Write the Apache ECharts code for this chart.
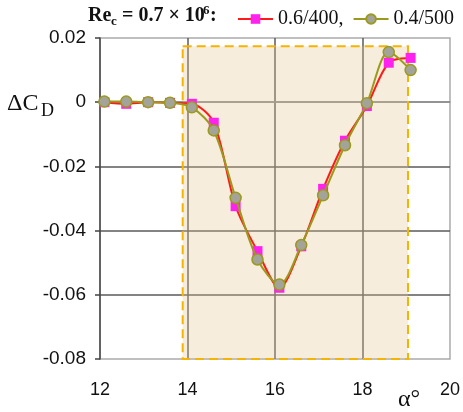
<!DOCTYPE html>
<html>
<head>
<meta charset="utf-8">
<script src="https://cdn.jsdelivr.net/npm/echarts@6/dist/echarts.min.js"></script>
<style>
  html, body { margin: 0; padding: 0; background: #fff; }
  #chart { width: 463px; height: 412px; }
</style>
</head>
<body>
<div id="chart"></div>
<script>
// Angle of attack (deg)
const alphaDeg = [12.1, 12.6, 13.1, 13.6, 14.1, 14.6, 15.1, 15.6, 16.1, 16.6, 17.1, 17.6, 18.1, 18.6, 19.1];
// Drag coefficient increment for the two configurations
const dCd_06_400 = [0, -0.0005, 0, -0.0002, -0.0005, -0.0064, -0.0324, -0.0464, -0.0578, -0.0449, -0.0270, -0.0120, -0.0012, 0.0123, 0.0138];
const dCd_04_500 = [0.0002, 0.0002, 0, -0.0002, -0.0016, -0.0088, -0.0298, -0.0490, -0.0568, -0.0445, -0.0290, -0.0134, -0.0003, 0.0156, 0.0100];
const seriesNames = ['0.6/400', '0.4/500'];
// Highlighted angle range (alpha from/to, dCd from/to)
const regionAlpha = [13.89, 19.04];
const regionDcd = [0.0174, -0.0805];

const serif = '"Liberation Serif", "DejaVu Serif", serif';
const sans = '"Liberation Sans", Arial, sans-serif';

const pairs = (xs, ys) => xs.map((x, i) => [x, ys[i]]);

const chart = echarts.init(document.getElementById('chart'), null, { renderer: 'canvas' });

chart.setOption({
  animation: false,
  backgroundColor: '#fff',
  grid: {
    left: 100, right: 12, top: 38, bottom: 53,
    show: true, borderColor: '#aaaaaa', borderWidth: 1.5, backgroundColor: 'transparent'
  },
  legend: {
    orient: 'horizontal',
    left: 237, top: 9, width: 226, padding: 0,
    itemWidth: 35, itemHeight: 12, itemGap: 9,
    textStyle: { fontFamily: serif, fontSize: 20, color: '#111' },
    formatter: name => name === seriesNames[0] ? name + ',' : name,
    data: seriesNames
  },
  xAxis: {
    type: 'value', min: 12, max: 20, interval: 2,
    axisLine: { show: true, lineStyle: { color: '#999', width: 1.5 } },
    axisTick: { show: false },
    axisLabel: { fontFamily: sans, fontSize: 18, color: '#111', margin: 22 },
    splitLine: { show: true, showMinLine: false, showMaxLine: false, lineStyle: { color: '#5a5a5a', width: 1.5 } }
  },
  yAxis: {
    type: 'value', min: -0.08, max: 0.02, interval: 0.02,
    axisLine: { show: true, onZero: false, lineStyle: { color: '#444', width: 1.5 } },
    axisTick: { show: true, length: 5, lineStyle: { color: '#444', width: 1.5 } },
    axisLabel: {
      fontFamily: sans, fontSize: 19, color: '#111', margin: 14,
      formatter: v => Math.abs(v) < 1e-9 ? '0' : v.toFixed(2)
    },
    splitLine: { show: true, showMinLine: false, showMaxLine: false, lineStyle: { color: '#5a5a5a', width: 1.5 } }
  },
  series: [
    {
      name: seriesNames[0], type: 'line', clip: false,
      data: pairs(alphaDeg, dCd_06_400),
      smooth: 0.3,
      symbol: 'rect', symbolSize: 10,
      lineStyle: { color: '#ff1a1a', width: 2 },
      itemStyle: { color: '#ff22ee', borderWidth: 0 },
      z: 3,
      markArea: {
        silent: true,
        itemStyle: {
          color: 'rgba(225, 195, 140, 0.3)',
          borderColor: '#f5b400', borderWidth: 2, borderType: [9, 5]
        },
        data: [[
          { xAxis: regionAlpha[0], yAxis: regionDcd[0] },
          { xAxis: regionAlpha[1], yAxis: regionDcd[1] }
        ]]
      }
    },
    {
      name: seriesNames[1], type: 'line', clip: false,
      data: pairs(alphaDeg, dCd_04_500),
      smooth: 0.3,
      symbol: 'circle', symbolSize: 11,
      lineStyle: { color: '#9a9a1c', width: 2 },
      itemStyle: { color: '#a3a39a', borderColor: '#9a9a1c', borderWidth: 1.5 },
      z: 4
    }
  ],
  graphic: [
    // Heading: Re_c = 0.7 × 10^6:
    { type: 'text', left: 88, top: 6, style: { text: 'Re', font: 'bold 20px ' + serif, fill: '#111' } },
    { type: 'text', left: 111, top: 15, style: { text: 'c', font: 'bold 13px ' + serif, fill: '#111' } },
    { type: 'text', left: 117, top: 6, style: { text: ' = 0.7 × 10', font: 'bold 20px ' + serif, fill: '#111' } },
    { type: 'text', left: 203, top: 4, style: { text: '6', font: 'bold 13px ' + serif, fill: '#111' } },
    { type: 'text', left: 210, top: 6, style: { text: ':', font: 'bold 20px ' + serif, fill: '#111' } },
    // y-axis name: ΔC_D
    { type: 'text', left: 7, top: 92, style: { text: 'ΔC', font: '24px ' + serif, fill: '#111' } },
    { type: 'text', left: 41, top: 102, style: { text: 'D', font: '18px ' + serif, fill: '#111' } },
    // x-axis name: α°
    { type: 'text', left: 398, top: 388, style: { text: 'α°', font: '24px ' + serif, fill: '#111' } }
  ]
});
</script>
</body>
</html>
